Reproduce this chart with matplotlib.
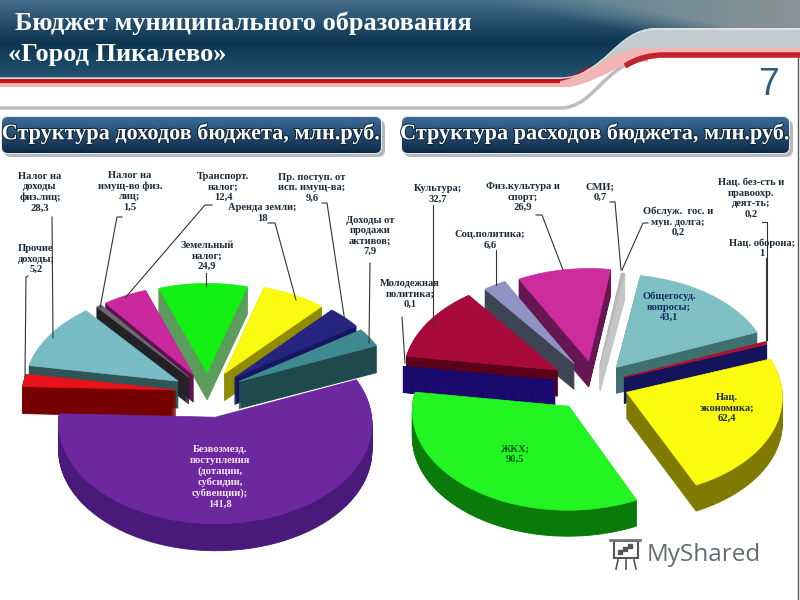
import matplotlib
matplotlib.use('Agg')
import matplotlib.pyplot as plt
import matplotlib.patheffects as pe
import numpy as np
from matplotlib.patches import FancyBboxPatch, PathPatch, Polygon, Rectangle
from matplotlib.path import Path
from matplotlib.transforms import Affine2D

plt.rcParams['font.family'] = ['Liberation Serif', 'DejaVu Serif']

# data: income pie, clockwise from the red slice
inc_names = ['Прочие\nдоходы;', 'Налог на\nдоходы\nфиз.лиц;', 'Налог на\nимущ-во физ.\nлиц;', 'Транспорт.\nналог;',
             'Земельный\nналог;', 'Аренда земли;', 'Пр. поступ. от\nисп. имущ-ва;', 'Доходы от\nпродажи\nактивов;',
             'Безвозмезд.\nпоступления\n(дотации,\nсубсидии,\nсубвенции);']
inc_values = [5.2, 28.3, 1.5, 12.4, 24.9, 18, 9.6, 7.9, 141.8]
# data: expense pie, clockwise from the yellow slice
exp_names = ['Нац.\nэкономика;', 'ЖКХ;', 'Молодежная\nполитика;', 'Культура;', 'Соц.политика;', 'Физ.культура и\nспорт;',
             'СМИ;', 'Обслуж.  гос. и\nмун. долга;', 'Общегосуд.\nвопросы;', 'Нац. оборона;',
             'Нац. без-сть и\nправоохр.\nдеят-ть;']
exp_values = [62.4, 90.5, 0.1, 32.7, 6.6, 26.9, 0.7, 0.2, 43.1, 1, 0.2]

# styles
inc_top = ['#e8121a', '#79bcc6', '#6a6a70', '#c9289f', '#12f012', '#fafa10', '#25257f', '#3f8a90', '#6d28a0']
inc_side = ['#760000', '#2f5558', '#222224', '#5e1250', '#5c9c5c', '#908c00', '#151560', '#1f4a4c', '#4a1a7a']
inc_explode = [0.21, 0.225, 0.2, 0.2, 0.2, 0.22, 0.23, 0.23, 0.26]
exp_top = ['#fbfb10', '#22f522', '#1a0a6e', '#a80a3c', '#8f94c4', '#cc2c9c', '#b8b8b8', '#b8b8b8', '#7fc0c4', '#b01030', '#b01030']
exp_side = ['#7f7a00', '#0a7a0a', '#1a0a6e', '#5a0018', '#3f4455', '#661650', '#c4c4c4', '#c4c4c4', '#3f7070', '#14145c', '#14145c']
exp_explode = [0.22, 0.28, 0.26, 0.28, 0.25, 0.24, 0.2, 0.2, 0.22, 0.2, 0.2]

inc_pos = [(36, 259), (40, 192), (130, 191), (223, 187), (207, 256), (262, 213), (312, 188), (370, 236), (220, 477)]
exp_pos = [(727, 408), (515, 454), (410, 294), (438, 194), (490, 240), (523, 197), (600, 192), (678, 222), (669, 307),
           (762, 248), (751, 198)]
inc_leaders = [[(28, 276), (26, 277), (25, 377)], [(52, 217), (53, 338)], [(122, 217), (117, 217), (100, 308)],
               [(212, 205), (205, 205), (125, 298)], [(206, 273), (206, 286)], [(268, 223), (275, 223), (296, 300)],
               [(322, 203), (327, 203), (345, 322)], [(370, 263), (369, 343)]]
exp_leaders = [[(402, 317), (405, 363)], [(433, 205), (433, 322)], [(496, 250), (496, 285)],
               [(536, 215), (542, 215), (563, 270)], [(610, 202), (615, 202), (621, 270)],
               [(648, 223), (643, 223), (622, 270)], [(766, 258), (766, 342)], [(762, 222), (767, 222), (767, 340)]]

fig = plt.figure(figsize=(8, 6), dpi=100)
ax = fig.add_axes([0, 0, 1, 1])
ax.set_xlim(0, 800)
ax.set_ylim(600, 0)
ax.axis('off')
ax.set_autoscale_on(False)
helper = fig.add_axes([0, 0, 0.01, 0.01])
helper.set_visible(False)


def lerp(c1, c2, t):
    a = np.array(matplotlib.colors.to_rgb(c1))
    b = np.array(matplotlib.colors.to_rgb(c2))
    return a + (b - a) * t


def grad_clip(patch, fn, ext):
    # gradient picture clipped on a shape
    x0, x1, y0, y1 = ext
    xs = np.linspace(x0, x1, 240)
    ys = np.linspace(y0, y1, 100)
    img = np.zeros((100, 240, 3))
    for j, y in enumerate(ys):
        for i, x in enumerate(xs):
            img[j, i] = fn(x, y)
    im = ax.imshow(img, extent=(x0, x1, y1, y0), aspect='auto', zorder=patch.get_zorder())
    ax.add_patch(patch)
    patch.set_visible(False)
    im.set_clip_path(patch)


def curve_line(pts, **kw):
    codes = [Path.MOVETO, Path.LINETO, Path.CURVE4, Path.CURVE4, Path.CURVE4, Path.LINETO]
    ax.add_patch(PathPatch(Path(pts, codes), fill=False, capstyle='butt', **kw))


# header
head = Path([(0, 0), (800, 0), (800, 28), (655, 28), (620, 28), (600, 78), (560, 78), (0, 78), (0, 0)],
            [Path.MOVETO, Path.LINETO, Path.LINETO, Path.LINETO, Path.CURVE4, Path.CURVE4, Path.CURVE4, Path.LINETO,
             Path.CLOSEPOLY])


def head_col(x, y):
    v = y / 78
    if v < 0.55:
        left = lerp('#426c8a', '#0c3550', v / 0.55)
    else:
        left = lerp('#0c3550', '#225472', (v - 0.55) / 0.45)
    t = np.clip((x - (470 + y * 5)) / 130, 0, 1)
    return left * (1 - t) + lerp('#5f8494', '#8a9496', np.clip((x - 560) / 240, 0, 1)) * t


grad_clip(PathPatch(head, zorder=2), head_col, (0, 800, 0, 80))
# grey and pink bands of the swoosh
ax.add_patch(PathPatch(Path([(800, 30), (655, 30), (622, 30), (605, 62), (585, 74), (625, 60), (650, 52), (800, 52), (800, 30)],
                            [Path.MOVETO, Path.LINETO, Path.CURVE4, Path.CURVE4, Path.CURVE4, Path.CURVE4, Path.CURVE4,
                             Path.LINETO, Path.CLOSEPOLY]), fc='#c4cbcf', ec='none', zorder=2))
ax.add_patch(PathPatch(Path([(0, 80), (560, 80), (590, 72), (610, 52), (640, 48), (800, 48), (800, 54), (660, 54),
                             (625, 58), (605, 80), (570, 87), (0, 87), (0, 80)],
                            [Path.MOVETO, Path.LINETO, Path.CURVE4, Path.CURVE4, Path.CURVE4, Path.LINETO, Path.LINETO,
                             Path.LINETO, Path.CURVE4, Path.CURVE4, Path.CURVE4, Path.LINETO, Path.CLOSEPOLY]),
                       fc='#f2b4b4', ec='none', zorder=2.5))
ax.plot([0, 560], [80.5, 80.5], color='#c4161c', lw=3, solid_capstyle='butt', zorder=3)
ax.add_patch(PathPatch(Path([(560, 80), (570, 78), (580, 74), (590, 66)], [Path.MOVETO, Path.CURVE4, Path.CURVE4, Path.CURVE4]),
                       fill=False, ec='#b01018', lw=1.5, zorder=3))
ax.add_patch(PathPatch(Path([(625, 66), (638, 58), (650, 55), (665, 55), (800, 55)],
                            [Path.MOVETO, Path.CURVE4, Path.CURVE4, Path.CURVE4, Path.LINETO]),
                       fill=False, ec='#c0242a', lw=4, capstyle='butt', zorder=3))
curve_line([(0, 78), (560, 78), (605, 78), (615, 29), (655, 29), (800, 29)], ec='#d0d8dc', lw=1, zorder=3)
curve_line([(0, 108), (560, 108), (595, 108), (605, 62), (645, 60), (648, 60)], ec='#bdbdbd', lw=2.5, zorder=1)

ax.text(15, 23, 'Бюджет муниципального образования', color='white', fontsize=19, va='center', fontweight='bold', zorder=4)
ax.text(8, 55, '«Город Пикалево»', color='white', fontsize=19, va='center', fontweight='bold', zorder=4)
ax.text(768, 85, '7', color='#2f5d78', fontsize=27, ha='center', va='center', family='Liberation Sans', zorder=4)
ax.plot([797.5, 797.5], [56, 600], color='#555555', lw=1, zorder=1)


# title pills
def pill(x0, x1, txt, fs):
    ax.add_patch(FancyBboxPatch((x0 + 3, 120), x1 - x0, 37, boxstyle='round,pad=0,rounding_size=7', fc='#b8b8b8', ec='none', zorder=2))
    ax.add_patch(FancyBboxPatch((x0, 116), x1 - x0, 38, boxstyle='round,pad=0,rounding_size=7', fc='#e4e8ec', ec='none', zorder=2.1))
    shape = FancyBboxPatch((x0 + 1, 117), x1 - x0 - 2, 36, boxstyle='round,pad=0,rounding_size=6', zorder=2.2)
    grad_clip(shape, lambda x, y: lerp('#3c6c98', '#0f2a48', (y - 117) / 36), (x0, x1, 117, 153))
    ax.text((x0 + x1) / 2, 134, txt, color='white', fontsize=fs, ha='center', va='center', fontweight='bold', zorder=4,
            path_effects=[pe.withStroke(linewidth=1.5, foreground='#10283c')])


pill(1, 382, 'Структура доходов бюджета, млн.руб.', 16)
pill(401, 790, 'Структура расходов бюджета, млн.руб.', 16)


def draw_pie(values, top, side, start, explode, cx, cy, rx, ry, k, depth):
    wedges, _ = helper.pie(values, startangle=start, counterclock=False, explode=explode, radius=1)
    polys = []
    for w, t, s in zip(wedges, top, side):
        p = Affine2D().scale(400).transform_path(w.get_path()).to_polygons(closed_only=False)[0] / 400
        f = 1 + k * p[:, 1]
        polys.append((p[:, 1].mean(), np.c_[cx + rx * p[:, 0] / f, cy - ry * p[:, 1] / f], t, s))
    # back to front
    polys.sort(key=lambda q: -q[0])
    for n, (_, xy, t, s) in enumerate(polys):
        z = 5 + n * 0.01
        for d in np.arange(depth, 0, -1.0):
            ax.add_patch(Polygon(xy + [0, d], closed=True, fc=s, ec=s, lw=0.6, zorder=z))
        ax.add_patch(Polygon(xy, closed=True, fc=t, ec=t, lw=0.5, zorder=z + 0.005))


draw_pie(inc_values, inc_top, inc_side, 178, inc_explode, 208, 392, 154, 97, 0.06, 27)
draw_pie(exp_values, exp_top, exp_side, 20, exp_explode, 595, 384, 155, 98, 0.04, 26)


def labels(names, values, pos, special={}):
    for i, (nm, v, p) in enumerate(zip(names, values, pos)):
        txt = nm + '\n' + f'{v:g}'.replace('.', ',')
        col = special.get(i, '#1c2a38')
        ax.text(p[0], p[1], txt, ha='center', va='center', fontsize=7.6, fontweight='bold', linespacing=1.2,
                color=col, zorder=8)


labels(inc_names, inc_values, inc_pos, {8: '#f4e4f4'})
labels(exp_names, exp_values, exp_pos, {1: '#0a5a14', 8: '#103060'})
for seg in inc_leaders + exp_leaders:
    xs, ys = zip(*seg)
    ax.plot(xs, ys, color='#333333', lw=0.8, zorder=7)

# watermark
ax.text(647, 555, 'MyShared', color='#666a6e', fontsize=17.5, family='Open Sans', va='center', zorder=9)
ax.add_patch(Rectangle((614, 541), 24, 17, fc='white', ec='#555555', lw=1.5, zorder=9))
ax.plot([610, 640], [540, 540], color='#777777', lw=2, zorder=9)
ax.plot([620, 625, 630], [552, 549, 546], ls='none', marker='s', ms=2.5, color='#555555', zorder=9)
ax.plot([618, 616], [560, 569], color='#555555', lw=1.2, zorder=9)
ax.plot([626, 626], [560, 569], color='#555555', lw=1.2, zorder=9)
ax.plot([634, 636], [560, 569], color='#555555', lw=1.2, zorder=9)

fig.savefig('out.png', dpi=100)
